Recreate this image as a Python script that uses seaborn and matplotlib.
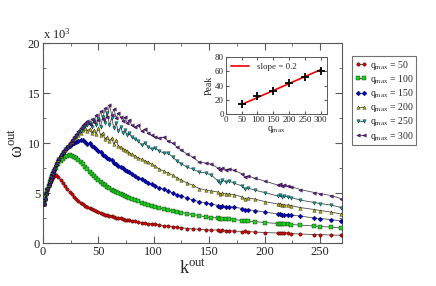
import numpy as np
import pandas as pd
import seaborn as sns
import matplotlib
matplotlib.use("Agg")
import matplotlib.pyplot as plt
from matplotlib.lines import Line2D
from matplotlib.ticker import MultipleLocator

sns.set_style("ticks")
plt.rcParams['font.family'] = ['Liberation Serif', 'DejaVu Serif']
plt.rcParams['mathtext.fontset'] = 'custom'
plt.rcParams['mathtext.rm'] = 'Liberation Serif'
plt.rcParams['mathtext.it'] = 'Liberation Serif:italic'

# ---- data (omega in units of 10^3) ----
k_out = [1, 2, 3, 4, 5, 6, 7, 8, 9, 10,
         12, 14, 16, 18, 20, 22, 24, 26, 28, 30, 32, 34, 36, 38, 40, 42, 44, 46, 48, 50,
         52, 54, 56, 58, 60, 62, 64, 66, 68, 70, 72, 74, 76, 78, 80,
         83, 86, 89, 92, 95, 98, 101,
         105, 109, 113, 117, 121, 125,
         130, 135, 141, 147, 152, 158, 160, 162, 165, 168, 172, 180, 182, 185, 191, 200,
         212, 214, 216, 218, 221, 224, 232, 245, 250, 260, 269]

w_q50 = [3.9, 4.4, 4.9, 5.3, 5.7, 6.0, 6.2, 6.45, 6.6, 6.75,
         6.8, 6.6, 6.3, 6.0, 5.7, 5.4, 5.1, 4.9, 4.6, 4.4, 4.2, 4.0, 3.9, 3.75, 3.6, 3.5, 3.4, 3.3, 3.2, 3.1,
         3.0, 2.95, 2.85, 2.8, 2.75, 2.7, 2.6, 2.55, 2.5, 2.5, 2.4, 2.35, 2.3, 2.3, 2.25,
         2.2, 2.1, 2.05, 2.0, 1.95, 1.95, 1.9,
         1.8, 1.75, 1.7, 1.65, 1.6, 1.55,
         1.45, 1.42, 1.38, 1.33, 1.3, 1.3, 1.25, 1.3, 1.25, 1.25, 1.2, 1.15, 1.2, 1.15, 1.1, 1.05,
         1.0, 1.05, 1.0, 1.0, 1.0, 0.95, 0.9, 0.85, 0.85, 0.8, 0.78]

w_q100 = [3.9, 4.4, 4.9, 5.35, 5.75, 6.1, 6.4, 6.7, 6.95, 7.15,
          7.55, 7.9, 8.2, 8.45, 8.6, 8.75, 8.85, 8.75, 8.65, 8.5, 8.3, 8.1, 7.9, 7.65, 7.4, 7.1, 6.9, 6.7, 6.5, 6.3,
          6.1, 5.95, 5.8, 5.6, 5.5, 5.35, 5.25, 5.1, 5.0, 4.9, 4.8, 4.7, 4.65, 4.55, 4.45,
          4.3, 4.2, 4.05, 3.95, 3.85, 3.75, 3.65,
          3.55, 3.4, 3.3, 3.2, 3.1, 3.05,
          2.95, 2.85, 2.75, 2.6, 2.55, 2.5, 2.4, 2.45, 2.4, 2.45, 2.35, 2.25, 2.2, 2.2, 2.15, 2.05,
          1.95, 1.9, 1.95, 1.9, 1.9, 1.85, 1.8, 1.7, 1.65, 1.6, 1.5]

w_q150 = [3.9, 4.45, 4.95, 5.4, 5.8, 6.15, 6.5, 6.8, 7.1, 7.35,
          7.85, 8.3, 8.7, 9.0, 9.3, 9.55, 9.75, 9.95, 10.05, 10.15, 10.25, 10.35, 10.3, 10.1, 9.9, 10.0, 9.7, 9.6, 9.45, 9.2,
          9.1, 8.85, 8.7, 8.55, 8.4, 8.3, 8.0, 7.9, 7.7, 7.6, 7.5, 7.3, 7.2, 7.1, 6.9,
          6.7, 6.5, 6.4, 6.2, 6.0, 5.9, 5.7,
          5.5, 5.4, 5.2, 5.0, 4.8, 4.7,
          4.5, 4.3, 4.15, 4.0, 3.9, 3.75, 3.6, 3.7, 3.65, 3.6, 3.6, 3.45, 3.3, 3.35, 3.25, 3.1,
          2.9, 2.95, 2.85, 2.85, 2.85, 2.8, 2.7, 2.5, 2.45, 2.35, 2.2]

w_q200 = [3.9, 4.45, 4.95, 5.4, 5.8, 6.2, 6.55, 6.85, 7.15, 7.4,
          7.9, 8.35, 8.75, 9.1, 9.35, 9.6, 9.9, 10.1, 10.4, 10.6, 10.8, 11.0, 11.3, 11.5, 11.2, 11.4, 11.0, 11.3, 10.9, 11.5,
          10.8, 11.0, 10.4, 10.6, 10.2, 10.5, 9.9, 10.3, 9.7, 9.6, 9.4, 9.3, 9.2, 9.0, 8.9,
          8.7, 8.5, 8.4, 8.2, 8.1, 7.9, 7.7,
          7.4, 7.2, 7.0, 6.8, 6.5, 6.3,
          6.0, 5.8, 5.45, 5.3, 5.2, 5.1, 4.9, 5.0, 4.95, 4.9, 4.85, 4.6, 4.45, 4.5, 4.4, 4.15,
          3.9, 3.95, 3.85, 3.8, 3.8, 3.75, 3.55, 3.35, 3.25, 3.1, 2.9]

w_q250 = [3.9, 4.45, 4.95, 5.4, 5.85, 6.25, 6.6, 6.9, 7.2, 7.45,
          7.95, 8.4, 8.8, 9.15, 9.4, 9.65, 9.95, 10.2, 10.5, 10.7, 11.0, 11.2, 11.5, 11.7, 11.8, 12.0, 11.6, 12.2, 11.8, 12.4,
          11.6, 12.6, 12.0, 13.0, 11.8, 12.5, 11.5, 12.0, 11.2, 11.6, 11.0, 11.3, 10.8, 11.0, 10.6,
          10.4, 10.2, 9.8, 10.0, 9.6, 9.4, 9.5,
          9.2, 9.0, 9.0, 8.6, 8.2, 7.9,
          7.6, 7.4, 7.1, 7.0, 6.8, 6.2, 6.0, 6.3, 6.1, 6.2, 6.0, 5.7, 5.4, 5.5, 5.3, 5.05,
          4.7, 4.8, 4.65, 4.7, 4.6, 4.55, 4.3, 4.05, 3.95, 3.8, 3.55]

w_q300 = [3.9, 4.45, 5.0, 5.45, 5.9, 6.3, 6.65, 6.95, 7.25, 7.5,
          8.0, 8.45, 8.85, 9.2, 9.45, 9.7, 10.0, 10.3, 10.6, 10.9, 11.2, 11.5, 11.8, 12.0, 12.2, 11.9, 12.4, 12.1, 12.8, 12.3,
          13.2, 12.4, 13.5, 12.6, 13.8, 12.8, 13.4, 12.5, 13.0, 12.6, 12.2, 12.6, 12.0, 12.3, 11.8,
          11.6, 11.8, 11.2, 11.4, 11.0, 10.8, 10.6,
          10.5, 10.6, 10.2, 10.0, 9.6, 9.3,
          8.9, 8.6, 8.1, 8.0, 7.9, 7.5, 7.3, 7.5, 7.35, 7.4, 7.3, 6.9, 6.6, 6.7, 6.5, 6.2,
          5.8, 5.9, 5.75, 5.8, 5.7, 5.65, 5.35, 5.05, 4.95, 4.75, 4.45]

q_max = [50, 100, 150, 200, 250, 300]
peak = [14, 25.5, 33, 44, 51.5, 61]
fit_q = [50, 300]
fit_peak = [13.5, 62.5]

series = {50: w_q50, 100: w_q100, 150: w_q150, 200: w_q200, 250: w_q250, 300: w_q300}
colors = {50: '#d40000', 100: '#1ed21e', 150: '#0000c8', 200: '#b4aa00', 250: '#00a0a0', 300: '#6e10a0'}
markers = {50: 'o', 100: 's', 150: 'D', 200: '^', 250: 'v', 300: '<'}

df = pd.concat([pd.DataFrame({'k': k_out, 'w': v, 'q': q}) for q, v in series.items()])

fig = plt.figure(figsize=(4.36, 2.86), dpi=100)
ax = fig.add_axes([0.0986, 0.1503, 0.686, 0.699])

for q in series:
    sub = df[df.q == q]
    sns.lineplot(data=sub, x='k', y='w', ax=ax, color='0.3', lw=0.6, sort=False, legend=False)
for q in series:
    sub = df[df.q == q]
    sns.scatterplot(data=sub, x='k', y='w', ax=ax, color=colors[q], marker=markers[q],
                    s=6, edgecolor='k', linewidth=0.25, legend=False, zorder=3)

ax.set_xlim(0, 270)
ax.set_ylim(0, 20)
ax.xaxis.set_major_locator(MultipleLocator(50))
ax.xaxis.set_minor_locator(MultipleLocator(25))
ax.yaxis.set_major_locator(MultipleLocator(5))
ax.yaxis.set_minor_locator(MultipleLocator(2.5))
ax.tick_params(which='both', direction='in', top=True, right=True, labelsize=9, color='0.35', pad=2)
ax.tick_params(which='major', length=5)
ax.tick_params(which='minor', length=2.5)
for s in ax.spines.values():
    s.set_color('0.35')
    s.set_linewidth(0.8)
ax.set_xlabel(r'k$^{\rm out}$', fontsize=13, labelpad=1)
ax.set_ylabel(r'ω$^{\rm out}$', fontsize=13, labelpad=1)
ax.text(0.0, 1.01, r'x 10$^3$', transform=ax.transAxes, fontsize=9, ha='left', va='bottom')

handles = [Line2D([], [], color='0.3', lw=0.6, marker=markers[q], markerfacecolor=colors[q],
                  markeredgecolor='k', markeredgewidth=0.25, markersize=2.5) for q in series]
labels = [r'q$_{\rm max}$ = %d' % q for q in series]
leg = fig.legend(handles, labels, loc='upper left', bbox_to_anchor=(0.807, 0.805), numpoints=2,
                 fontsize=7, handlelength=1.3, handletextpad=0.25, labelspacing=0.12,
                 borderpad=0.3, borderaxespad=0, frameon=True, fancybox=False)
leg.get_frame().set_edgecolor('0.3')
leg.get_frame().set_linewidth(0.8)

# inset
ins = fig.add_axes([0.518, 0.601, 0.232, 0.199])
sns.lineplot(x=fit_q, y=fit_peak, ax=ins, color='#ee0000', lw=1.2, label='slope = 0.2')
sns.scatterplot(x=q_max, y=peak, ax=ins, marker='+', color='k', s=40, linewidth=1.3, zorder=3)
ins.set_xlim(0, 320)
ins.set_ylim(0, 80)
ins.xaxis.set_major_locator(MultipleLocator(50))
ins.yaxis.set_major_locator(MultipleLocator(20))
ins.tick_params(which='both', direction='in', top=True, right=True, labelsize=6.5, length=2.5,
                color='0.35', pad=1.5)
for s in ins.spines.values():
    s.set_color('0.35')
    s.set_linewidth(0.7)
ins.set_xlabel(r'q$_{\rm max}$', fontsize=7, labelpad=0)
ins.set_ylabel('Peak', fontsize=7, labelpad=1)
il = ins.legend(loc='upper left', fontsize=6.5, frameon=False, handlelength=2, borderaxespad=0.2)

fig.savefig('out.png', dpi=100)
